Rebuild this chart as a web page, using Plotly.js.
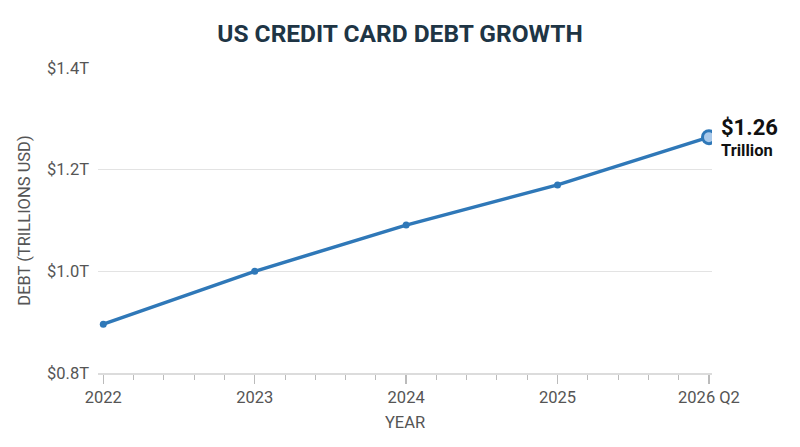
<!DOCTYPE html>
<html>
<head>
<meta charset="utf-8">
<script src="https://cdn.plot.ly/plotly-3.0.1.min.js"></script>
<style>
  html, body { margin: 0; padding: 0; background: #fff; }
  #chart { width: 800px; height: 447px; }
</style>
</head>
<body>
<div id="chart"></div>
<script>
// data
var years = [2022, 2023, 2024, 2025, 2026];
var yearLabels = ['2022', '2023', '2024', '2025', '2026 Q2'];
var debt = [0.896, 1.0, 1.091, 1.170, 1.264];
var yTicks = [0.8, 1.0, 1.2, 1.4];
var yTickText = ['$0.8T', '$1.0T', '$1.2T', '$1.4T'];

var blue = '#2f78b8';
var last = years.length - 1;

var traces = [{
  x: years,
  y: debt,
  type: 'scatter',
  mode: 'lines+markers',
  line: { color: blue, width: 3.5 },
  marker: { color: blue, size: 7 },
  hoverinfo: 'skip'
}, {
  // highlighted end point
  x: [years[last]],
  y: [debt[last]],
  type: 'scatter',
  mode: 'markers',
  marker: { color: '#a9c9ea', size: 13, line: { color: blue, width: 3 } },
  hoverinfo: 'skip'
}];

var layout = {
  width: 800,
  height: 447,
  margin: { l: 98, r: 88, t: 68, b: 74 },
  paper_bgcolor: '#fff',
  plot_bgcolor: '#fff',
  showlegend: false,
  font: { family: 'Roboto, sans-serif', color: '#555', size: 16.5 },
  title: {
    text: '<b>US CREDIT CARD DEBT GROWTH</b>',
    font: { family: 'Roboto, sans-serif', size: 24.5, color: '#1e3545' },
    x: 0.5, xanchor: 'center', y: 0.925, yanchor: 'middle'
  },
  xaxis: {
    range: [2021.965, 2026.02],
    tickvals: years,
    ticktext: yearLabels,
    showgrid: false,
    zeroline: false,
    showline: true,
    linecolor: '#dcdcdc',
    linewidth: 1.5,
    ticks: 'outside',
    ticklen: 9,
    tickcolor: '#bbb',
    tickwidth: 1.5,
    minor: { dtick: 0.2, ticks: 'outside', ticklen: 5, tickcolor: '#bbb', tickwidth: 1 },
    tickfont: { size: 16.5, color: '#555' },
    title: { text: 'YEAR', font: { size: 16.5, color: '#555' }, standoff: 10 }
  },
  yaxis: {
    range: [0.8, 1.4],
    tickvals: yTicks,
    ticktext: yTickText,
    showgrid: true,
    gridcolor: '#e3e3e3',
    gridwidth: 1,
    zeroline: false,
    showline: false,
    ticks: '',
    ticklabelstandoff: 8,
    tickfont: { size: 16.5, color: '#555' },
    title: { text: 'DEBT (TRILLIONS USD)', font: { size: 16.5, color: '#555' }, standoff: 12 }
  },
  annotations: [{
    x: years[last], y: debt[last],
    xref: 'x', yref: 'y',
    text: '<b>$1.26</b>',
    showarrow: false,
    xanchor: 'left', yanchor: 'bottom',
    xshift: 10, yshift: -5,
    font: { family: 'Roboto, sans-serif', size: 22, color: '#111' }
  }, {
    x: years[last], y: debt[last],
    xref: 'x', yref: 'y',
    text: '<b>Trillion</b>',
    showarrow: false,
    xanchor: 'left', yanchor: 'top',
    xshift: 10, yshift: -2,
    font: { family: 'Roboto, sans-serif', size: 16.5, color: '#111' }
  }]
};

Plotly.newPlot('chart', traces, layout, { displayModeBar: false, staticPlot: true });
</script>
</body>
</html>
